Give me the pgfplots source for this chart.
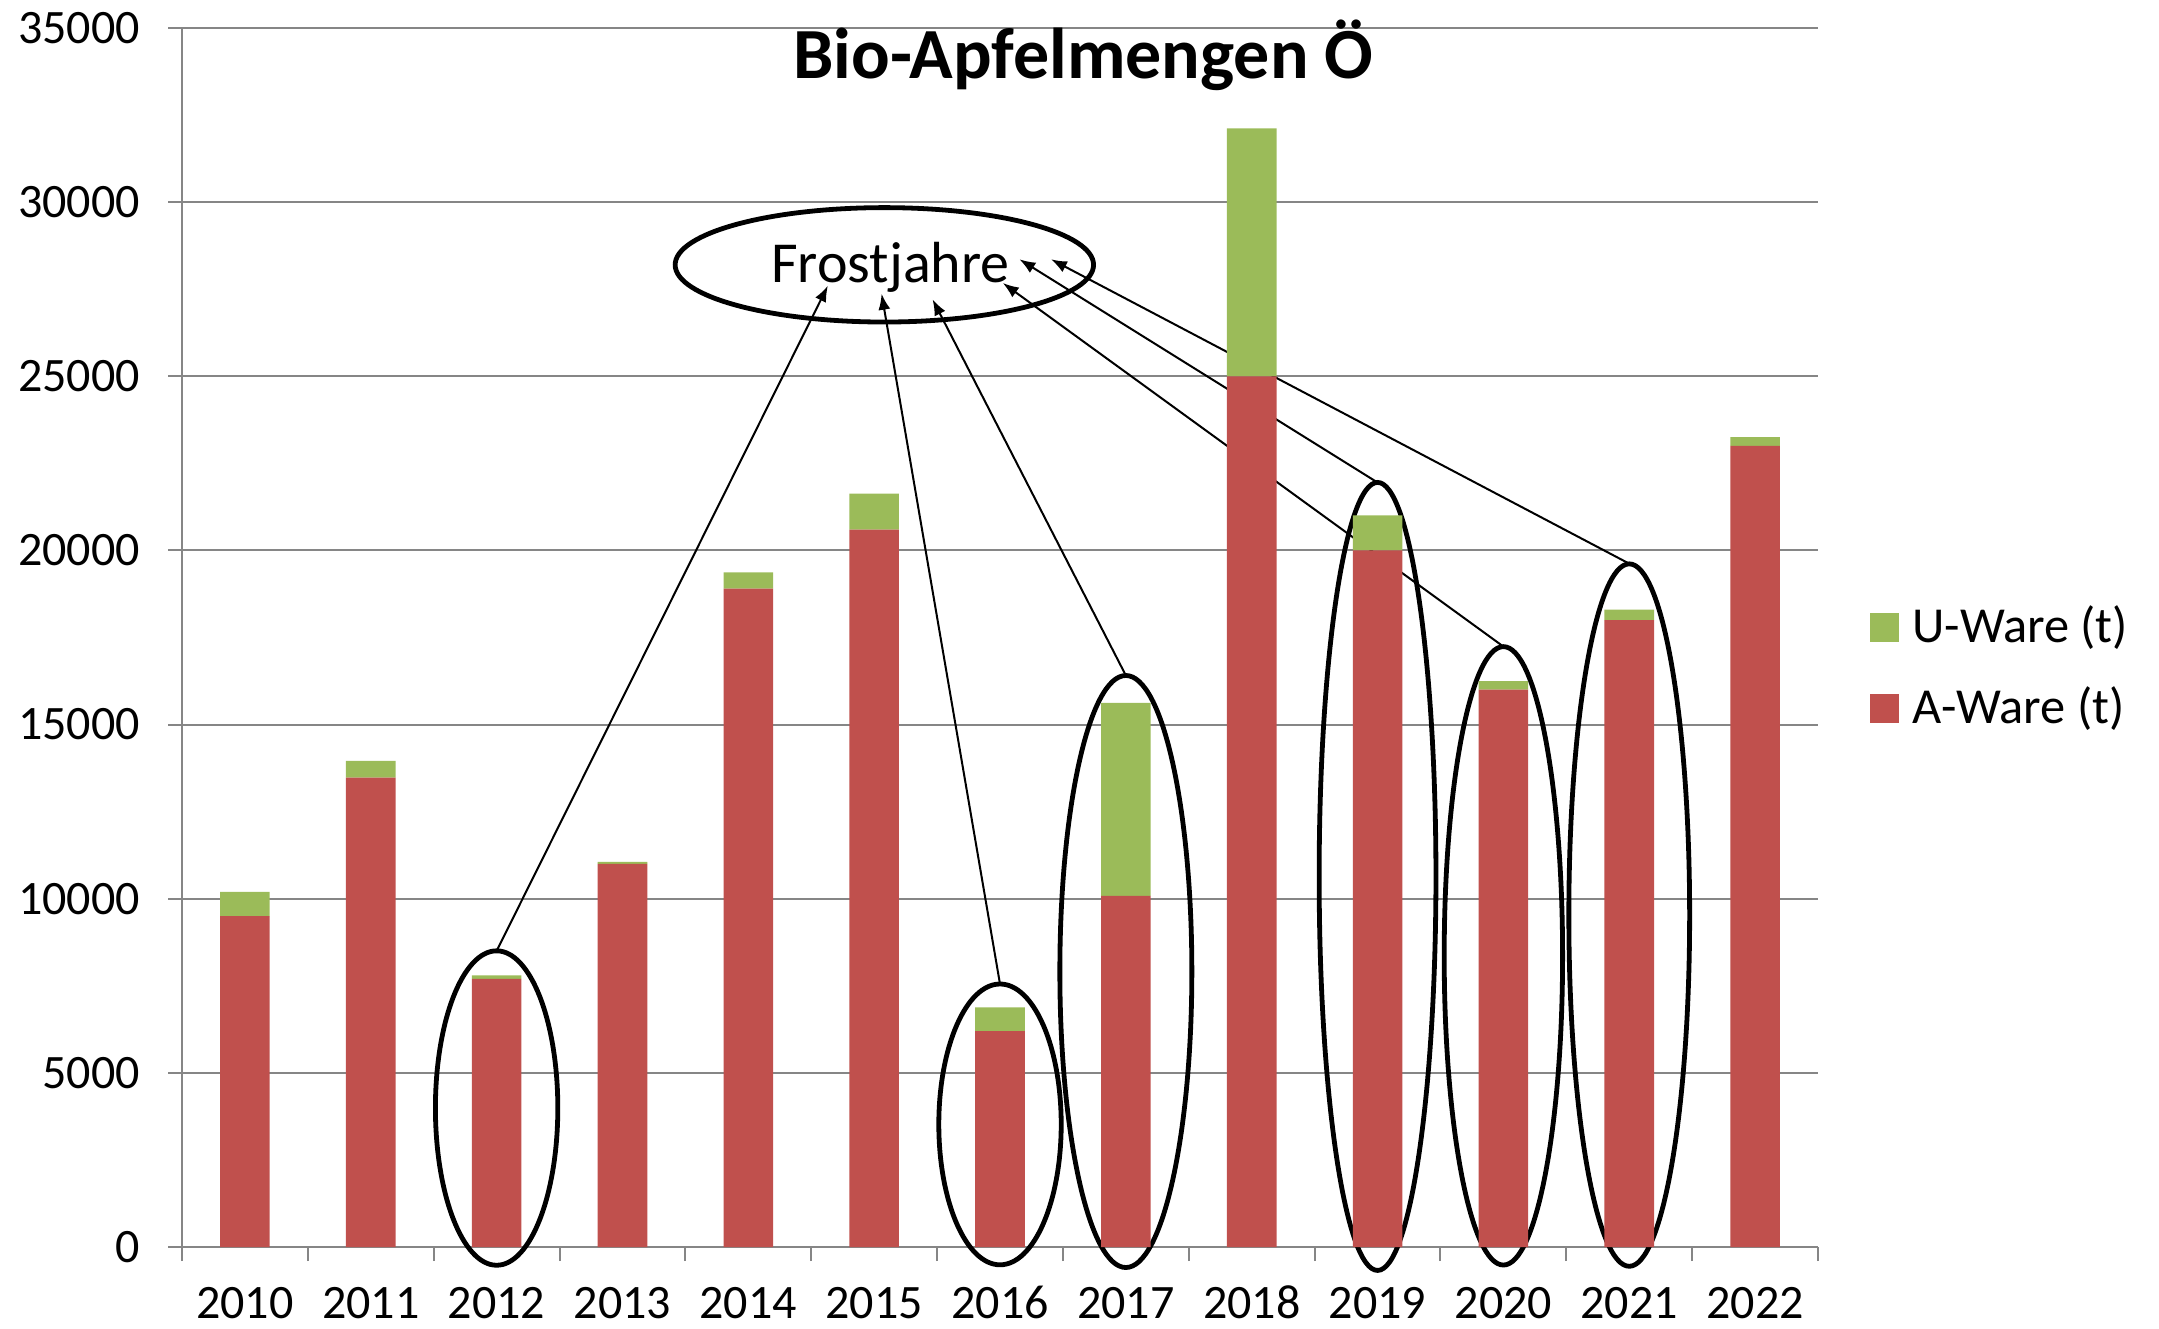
\documentclass[border=0pt]{standalone}
\usepackage{pgfplots}
\pgfplotsset{compat=1.18}
\usepackage{fontspec}
\setmainfont{Carlito}
\usetikzlibrary{arrows.meta}
\definecolor{aware}{HTML}{C0504D}
\definecolor{uware}{HTML}{9BBB59}
\definecolor{gridgray}{HTML}{868686}

\begin{document}
\begin{tikzpicture}
\useasboundingbox (-45.5pt,-20.25pt) rectangle (494.25pt,311.75pt);
\begin{axis}[
    at={(0,0)}, anchor=south west,
    scale only axis, width=409pt, height=304.75pt,
    ybar stacked, bar width=12.4pt,
    xmin=-0.5, xmax=12.5, ymin=0, ymax=35000,
    xtick={-0.5,0.5,...,12.5}, xticklabels={},
    extra x ticks={0,1,...,12},
    extra x tick labels={2010,2011,2012,2013,2014,2015,2016,2017,2018,2019,2020,2021,2022},
    extra x tick style={major tick length=0pt, xticklabel style={yshift=-6.8pt, text height=7.6pt, text depth=0pt}},
    ytick={0,5000,...,35000},
    scaled y ticks=false,
    yticklabel style={xshift=-3.5pt, /pgf/number format/.cd, set thousands separator={}, assume math mode=true},
    tick label style={font=\fontsize{12}{14}\selectfont},
    axis x line*=bottom, axis y line*=left,
    axis line style={draw=gridgray, line width=0.5pt, -},
    tick style={draw=gridgray, line width=0.5pt},
    tick align=outside, major tick length=3.5pt,
    ymajorgrids, grid style={draw=gridgray, line width=0.5pt},
    clip=false,
    legend style={at={(axis description cs:1,0.475)}, anchor=west, xshift=12.75pt,
        draw=none, fill=none, font=\fontsize{12.6}{14}\selectfont,
        row sep=5.5pt, inner sep=0pt, cells={anchor=west}},
]
\addlegendimage{legend image code/.code={\fill[uware] (0pt,-3.5pt) rectangle (7pt,3.5pt);}}
\addlegendentry{\hspace{1.2pt}U-Ware (t)}
\addlegendimage{legend image code/.code={\fill[aware] (0pt,-3.5pt) rectangle (7pt,3.5pt);}}
\addlegendentry{\hspace{1.2pt}A-Ware (t)}
% A-Ware (t)
\addplot[fill=aware, draw=none, forget plot] coordinates {
    (0,9500) (1,13480) (2,7700) (3,11000) (4,18900) (5,20600) (6,6200)
    (7,10080) (8,25000) (9,20000) (10,16000) (11,18000) (12,23000)
};
% U-Ware (t)
\addplot[fill=uware, draw=none, forget plot] coordinates {
    (0,700) (1,480) (2,100) (3,60) (4,470) (5,1030) (6,680)
    (7,5540) (8,7120) (9,1010) (10,250) (11,300) (12,250)
};

\node[font=\bfseries\fontsize{18}{20}\selectfont] at (rel axis cs:0.551,0.978) {Bio-Apfelmengen Ö};

% Frostjahre annotation
\draw[line width=1.2pt] (axis cs:5.081,28200) ellipse [x radius=52.3pt, y radius=14.3pt];
\node[font=\fontsize{14.5}{16}\selectfont] at (axis cs:5.13,28130) {Frostjahre};
\draw[line width=1.2pt] (axis cs:2,3990) ellipse [x radius=15.3pt, y radius=39.3pt];
\draw[line width=1.2pt] (axis cs:6,3520) ellipse [x radius=15.3pt, y radius=35.1pt];
\draw[line width=1.2pt] (axis cs:7,7910) ellipse [x radius=16.5pt, y radius=74pt];
\draw[line width=1.2pt] (axis cs:9,10640) ellipse [x radius=14.6pt, y radius=98.5pt];
\draw[line width=1.2pt] (axis cs:10,8360) ellipse [x radius=14.8pt, y radius=77.3pt];
\draw[line width=1.2pt] (axis cs:11,9530) ellipse [x radius=15.1pt, y radius=87.8pt];
\draw[line width=0.5pt, -{Latex[length=4pt,width=3pt]}] (axis cs:2,8500) -- (axis cs:4.632,27600);
\draw[line width=0.5pt, -{Latex[length=4pt,width=3pt]}] (axis cs:6,7550) -- (axis cs:5.059,27370);
\draw[line width=0.5pt, -{Latex[length=4pt,width=3pt]}] (axis cs:7,16410) -- (axis cs:5.464,27210);
\draw[line width=0.5pt, -{Latex[length=4pt,width=3pt]}] (axis cs:10,17240) -- (axis cs:6.022,27680);
\draw[line width=0.5pt, -{Latex[length=4pt,width=3pt]}] (axis cs:9,21950) -- (axis cs:6.154,28360);
\draw[line width=0.5pt, -{Latex[length=4pt,width=3pt]}] (axis cs:11,19620) -- (axis cs:6.405,28360);
\end{axis}
\end{tikzpicture}
\end{document}
